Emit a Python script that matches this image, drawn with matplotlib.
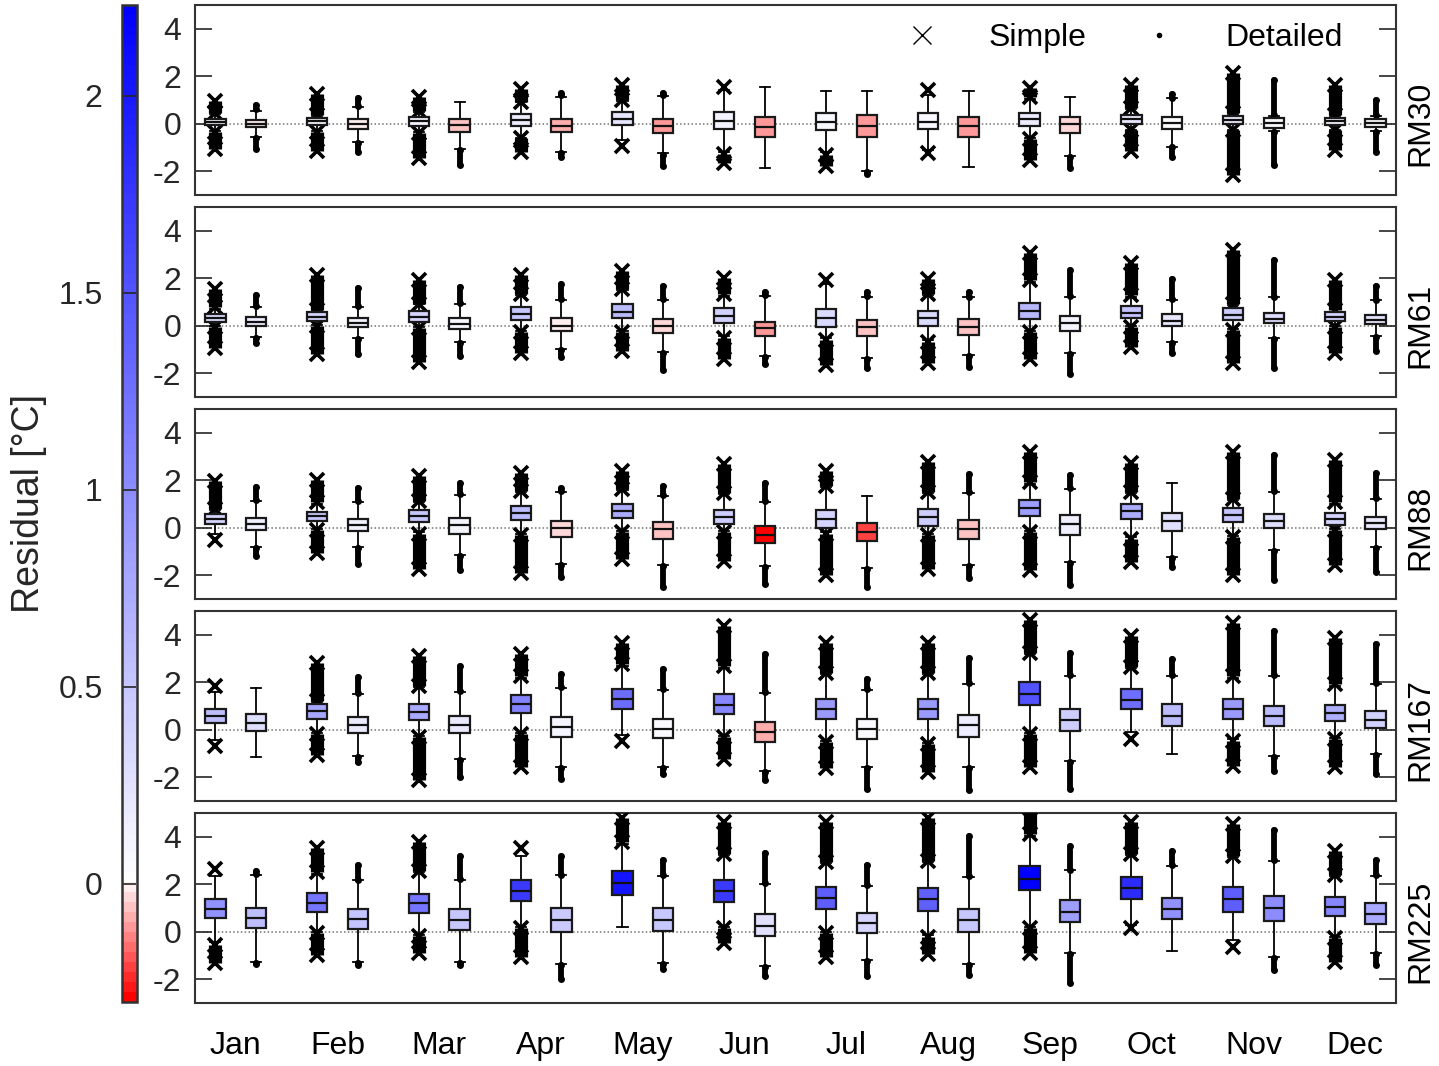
import numpy as np
import matplotlib
matplotlib.use("Agg")
import matplotlib.pyplot as plt
from matplotlib.colors import LinearSegmentedColormap, Normalize
from matplotlib.cm import ScalarMappable
from matplotlib.lines import Line2D
from matplotlib.transforms import blended_transform_factory

plt.rcParams['font.family'] = ['Liberation Sans', 'DejaVu Sans']

MONTHS = ['Jan', 'Feb', 'Mar', 'Apr', 'May', 'Jun', 'Jul', 'Aug', 'Sep', 'Oct', 'Nov', 'Dec']
SITES = ['RM30', 'RM61', 'RM88', 'RM167', 'RM225']
YTICKS = [-2, 0, 2, 4]
CBAR_TICKS = [0, 0.5, 1, 1.5, 2]

# ---------------- Simple model ----------------
S_MED = [
    [0.07, 0.10, 0.10, 0.16, 0.22, 0.12, 0.06, 0.06, 0.18, 0.20, 0.17, 0.10],
    [0.33, 0.38, 0.38, 0.50, 0.60, 0.40, 0.32, 0.32, 0.63, 0.53, 0.45, 0.38],
    [0.38, 0.49, 0.49, 0.60, 0.72, 0.45, 0.38, 0.45, 0.84, 0.72, 0.52, 0.38],
    [0.57, 0.77, 0.75, 1.08, 1.28, 1.05, 0.87, 0.88, 1.52, 1.26, 0.88, 0.70],
    [0.96, 1.21, 1.20, 1.72, 2.05, 1.72, 1.42, 1.38, 2.23, 1.84, 1.40, 1.05],
]
S_Q1 = [
    [-0.06, -0.04, -0.10, -0.10, -0.06, -0.22, -0.27, -0.24, -0.10, -0.01, -0.03, -0.06],
    [0.17, 0.21, 0.17, 0.26, 0.31, 0.10, -0.04, -0.01, 0.28, 0.31, 0.24, 0.20],
    [0.17, 0.29, 0.24, 0.33, 0.42, 0.14, -0.01, 0.06, 0.49, 0.38, 0.24, 0.13],
    [0.28, 0.47, 0.40, 0.71, 0.88, 0.66, 0.45, 0.45, 1.05, 0.86, 0.45, 0.35],
    [0.56, 0.84, 0.81, 1.28, 1.56, 1.26, 0.95, 0.88, 1.74, 1.39, 0.84, 0.66],
]
S_Q3 = [
    [0.18, 0.25, 0.27, 0.41, 0.50, 0.50, 0.46, 0.46, 0.46, 0.38, 0.32, 0.25],
    [0.49, 0.57, 0.61, 0.80, 0.93, 0.73, 0.70, 0.63, 0.96, 0.82, 0.73, 0.56],
    [0.59, 0.68, 0.73, 0.91, 1.00, 0.75, 0.73, 0.77, 1.17, 1.00, 0.82, 0.60],
    [0.89, 1.07, 1.10, 1.46, 1.70, 1.49, 1.28, 1.31, 2.02, 1.70, 1.31, 1.05],
    [1.37, 1.63, 1.60, 2.16, 2.55, 2.16, 1.88, 1.85, 2.75, 2.30, 1.88, 1.46],
]
S_WLO = [
    [-0.30, -0.30, -0.35, -0.60, -0.70, -1.20, -1.20, -1.10, -0.60, -0.25, -0.25, -0.25],
    [0.00, 0.05, -0.05, -0.20, -0.20, -0.45, -0.50, -0.60, -0.20, 0.00, -0.15, 0.00],
    [-0.25, -0.05, -0.20, -0.25, -0.12, -0.12, -0.20, -0.28, -0.12, -0.40, -0.35, -0.05],
    [-0.45, -0.12, -0.28, -0.12, -0.20, -0.28, -0.48, -0.55, -0.12, -0.10, -0.40, -0.35],
    [-0.45, -0.02, -0.12, 0.20, 0.21, 0.20, -0.02, -0.15, 0.20, 0.30, -0.35, -0.22],
]
S_WHI = [
    [0.40, 0.33, 0.50, 0.90, 0.95, 1.42, 1.39, 1.20, 1.05, 0.60, 0.40, 0.33],
    [0.70, 0.62, 0.90, 1.30, 1.50, 1.25, 1.75, 1.30, 1.85, 1.20, 0.88, 0.60],
    [0.75, 1.00, 1.10, 1.50, 1.58, 1.40, 1.70, 1.45, 1.85, 1.45, 1.15, 1.00],
    [1.60, 1.15, 1.80, 2.20, 2.70, 2.62, 2.35, 2.35, 3.18, 2.60, 2.20, 1.85],
    [2.35, 2.45, 2.50, 3.20, 3.70, 3.22, 2.88, 2.95, 4.05, 3.22, 3.15, 2.35],
]
# outlier extents (near end, far end) or a single outlier, or none
S_FHI = [
    [(0.45, 0.95), (0.37, 1.24), (0.53, 1.14), (0.93, 1.45), (1.00, 1.63), (1.53,), (), (1.42,), (1.14, 1.49), (0.65, 1.63), (0.44, 2.12), (0.36, 1.63)],
    [(0.80, 1.56), (0.66, 2.12), (0.93, 1.91), (1.35, 2.12), (1.56, 2.30), (1.32, 2.02), (1.91,), (1.35, 1.98), (1.91, 3.05), (1.28, 2.64), (0.93, 3.19), (0.66, 1.91)],
    [(0.80, 1.98), (1.07, 2.02), (1.14, 2.16), (1.56, 2.30), (1.63, 2.40), (1.46, 2.68), (1.77, 2.40), (1.49, 2.75), (1.91, 3.19), (1.49, 2.72), (1.21, 3.19), (1.07, 2.86)],
    [(1.84,), (1.21, 2.82), (1.84, 3.10), (2.25, 3.17), (2.75, 3.65), (2.68, 4.35), (2.40, 3.65), (2.40, 3.65), (3.24, 4.63), (2.64, 3.93), (2.26, 4.49), (1.91, 3.86)],
    [(2.65,), (2.51, 3.53), (2.55, 3.77), (3.51,), (3.77, 4.81), (3.28, 4.64), (2.93, 4.64), (3.00, 4.81), (4.11, 5.20), (3.28, 4.64), (3.21, 4.53), (2.41, 3.39)],
]
S_FLO = [
    [(-0.35, -1.07), (-0.34, -1.14), (-0.38, -1.46), (-0.62, -1.18), (-0.93,), (-1.28, -1.67), (-1.30, -1.80), (-1.25,), (-0.66, -1.53), (-0.27, -1.14), (-0.27, -2.16), (-0.27, -1.11)],
    [(-0.05, -0.95), (0.00, -1.19), (-0.11, -1.51), (-0.25, -1.16), (-0.25, -1.05), (-0.53, -1.41), (-0.60, -1.65), (-0.67, -1.55), (-0.25, -1.41), (-0.04, -0.88), (-0.18, -1.55), (-0.04, -1.16)],
    [(-0.53,), (-0.11, -1.05), (-0.25, -1.74), (-0.29, -1.92), (-0.18, -1.30), (-0.18, -1.41), (-0.25, -2.00), (-0.32, -1.72), (-0.18, -1.79), (-0.46, -1.44), (-0.39, -1.97), (-0.11, -1.58)],
    [(-0.67,), (-0.18, -1.05), (-0.32, -2.13), (-0.18, -1.58), (-0.46,), (-0.32, -1.23), (-0.53, -1.60), (-0.60, -1.79), (-0.18, -1.58), (-0.39,), (-0.46, -1.51), (-0.39, -1.58)],
    [(-0.56, -1.33), (-0.07, -0.98), (-0.18, -0.88), (0.14, -1.05), (), (0.14, -0.49), (-0.07, -1.05), (-0.21, -0.93), (0.14, -0.91), (0.14,), (-0.63,), (-0.28, -1.26)],
]

# ---------------- Detailed model ----------------
D_MED = [
    [0.00, 0.00, -0.07, -0.08, -0.10, -0.12, -0.10, -0.10, -0.03, 0.03, 0.03, 0.03],
    [0.17, 0.10, 0.07, 0.00, -0.03, -0.10, -0.07, -0.07, 0.10, 0.22, 0.30, 0.25],
    [0.15, 0.13, 0.10, -0.03, -0.07, -0.30, -0.20, -0.07, 0.15, 0.28, 0.30, 0.20],
    [0.30, 0.20, 0.20, 0.10, 0.03, -0.08, 0.05, 0.18, 0.42, 0.60, 0.60, 0.40],
    [0.58, 0.52, 0.50, 0.48, 0.50, 0.26, 0.38, 0.50, 0.85, 0.95, 1.00, 0.75],
]
D_Q1 = [
    [-0.15, -0.22, -0.34, -0.35, -0.38, -0.55, -0.55, -0.55, -0.41, -0.21, -0.18, -0.13],
    [-0.01, -0.07, -0.13, -0.22, -0.29, -0.43, -0.43, -0.38, -0.22, 0.00, 0.10, 0.07],
    [-0.11, -0.14, -0.25, -0.39, -0.46, -0.64, -0.57, -0.46, -0.29, -0.14, -0.01, -0.04],
    [-0.04, -0.14, -0.15, -0.29, -0.35, -0.50, -0.39, -0.29, -0.04, 0.17, 0.17, 0.07],
    [0.14, 0.10, 0.07, 0.00, 0.04, -0.18, -0.07, 0.00, 0.42, 0.52, 0.46, 0.32],
]
D_Q3 = [
    [0.15, 0.21, 0.21, 0.21, 0.21, 0.30, 0.36, 0.30, 0.27, 0.27, 0.24, 0.18],
    [0.35, 0.32, 0.32, 0.32, 0.29, 0.15, 0.24, 0.27, 0.42, 0.49, 0.52, 0.46],
    [0.40, 0.38, 0.40, 0.29, 0.24, 0.06, 0.20, 0.31, 0.52, 0.60, 0.59, 0.45],
    [0.66, 0.54, 0.59, 0.52, 0.47, 0.33, 0.47, 0.61, 0.89, 1.07, 1.00, 0.80],
    [1.02, 0.95, 0.95, 0.98, 0.98, 0.73, 0.77, 0.95, 1.33, 1.44, 1.49, 1.19],
]
D_WLO = [
    [-0.55, -0.76, -1.08, -1.18, -1.25, -1.88, -1.98, -1.84, -1.36, -0.97, -0.30, -0.30],
    [-0.46, -0.53, -0.67, -0.99, -1.09, -1.27, -1.37, -1.23, -1.13, -0.67, -0.53, -0.43],
    [-0.81, -0.81, -1.16, -1.51, -1.58, -1.62, -1.69, -1.58, -1.46, -1.23, -0.95, -0.81],
    [-1.16, -1.09, -1.23, -1.55, -1.55, -1.72, -1.58, -1.58, -1.30, -1.02, -1.09, -1.02],
    [-1.26, -1.26, -1.26, -1.35, -1.30, -1.46, -1.21, -1.35, -0.91, -0.80, -1.05, -0.88],
]
D_WHI = [
    [0.55, 0.70, 0.90, 1.14, 1.16, 1.53, 1.39, 1.39, 1.11, 1.07, 0.32, 0.32],
    [0.80, 0.80, 0.90, 1.07, 1.07, 1.24, 1.21, 1.19, 1.21, 1.07, 1.19, 1.07],
    [1.14, 1.07, 1.38, 1.49, 1.32, 1.07, 1.32, 1.46, 1.63, 1.88, 1.52, 1.21],
    [1.74, 1.52, 1.60, 1.74, 1.66, 1.56, 1.66, 1.91, 2.26, 2.26, 2.26, 1.91],
    [2.41, 2.16, 2.19, 2.37, 2.33, 2.02, 1.91, 2.30, 2.58, 2.75, 2.97, 2.33],
]
D_FHI = [
    [(0.60, 0.80), (0.75, 1.10), (), (1.20, 1.28), (1.20, 1.28), (), (), (), (), (1.10, 1.24), (0.36, 1.84), (0.36, 1.00)],
    [(0.85, 1.28), (0.85, 1.59), (0.95, 1.63), (1.12, 1.77), (1.12, 1.66), (1.28, 1.42), (1.25, 1.42), (1.23, 1.42), (1.25, 2.33), (1.12, 1.98), (1.23, 2.78), (1.10, 1.66)],
    [(1.18, 1.70), (1.11, 1.66), (1.42, 1.88), (1.53, 1.66), (1.36, 1.77), (1.11, 1.88), (), (1.50, 2.26), (1.67, 2.22), (), (1.56, 3.05), (1.25, 2.30)],
    [(), (1.56, 2.22), (1.64, 2.68), (1.78, 2.33), (1.70, 2.54), (1.60, 3.19), (1.70, 2.12), (1.95, 3.03), (2.30, 3.24), (2.30, 2.96), (2.30, 4.14), (1.95, 3.61)],
    [(2.45, 2.55), (2.20, 2.79), (2.23, 3.21), (2.41, 3.21), (2.37, 3.03), (2.06, 3.31), (1.95, 2.79), (2.34, 4.04), (2.62, 3.63), (2.79, 3.39), (3.01, 4.28), (2.37, 3.03)],
]
D_FLO = [
    [(-0.60, -1.08), (-0.80, -1.18), (-1.12, -1.74), (-1.22, -1.42), (-1.30, -1.77), (), (-2.02, -2.10), (), (-1.40, -1.88), (-1.00, -1.39), (-0.34, -1.74), (-0.34, -1.18)],
    [(-0.50, -0.74), (-0.57, -1.19), (-0.72, -1.27), (-1.03, -1.30), (-1.13, -1.85), (-1.30, -1.60), (-1.40, -1.79), (-1.27, -1.72), (-1.17, -2.02), (-0.72, -1.16), (-0.57, -1.79), (-0.47, -1.05)],
    [(-0.85, -1.19), (-0.85, -1.51), (-1.20, -1.79), (-1.55, -2.06), (-1.62, -2.48), (-1.66, -2.38), (-1.73, -2.48), (-1.62, -2.13), (-1.50, -2.41), (-1.27, -1.65), (-0.99, -2.20), (-0.85, -1.86)],
    [(), (-1.13, -1.37), (-1.27, -2.00), (-1.59, -2.06), (-1.59, -1.88), (-1.76, -2.13), (-1.62, -2.48), (-1.62, -2.52), (-1.34, -2.48), (), (-1.13, -1.72), (-1.06, -1.86)],
    [(-1.30, -1.37), (-1.30, -1.42), (-1.30, -1.42), (-1.39, -2.00), (-1.34, -1.58), (-1.50, -1.88), (-1.25, -1.88), (-1.39, -1.81), (-0.95, -2.16), (), (-1.09, -1.60), (-0.92, -1.39)],
]

# ---------------- layout ----------------
W, H = 1439, 1066
DPI = 100
fig = plt.figure(figsize=(W / DPI, H / DPI), dpi=DPI)

TXT = '#262626'
FS = 23

all_meds = np.concatenate([np.ravel(S_MED), np.ravel(D_MED)])
vmin, vmax = all_meds.min(), all_meds.max()
zpos = (0 - vmin) / (vmax - vmin)
cmap = LinearSegmentedColormap.from_list(
    'rwb', [(0.0, (1, 0, 0)), (zpos, (1, 1, 1)), (1.0, (0, 0, 1))], N=100)
norm = Normalize(vmin=vmin, vmax=vmax)

x0, x1 = 195, 1396
months_pos = np.arange(1, 13)

models = [
    (S_MED, S_Q1, S_Q3, S_WLO, S_WHI, S_FHI, S_FLO, -0.2, 'simple'),
    (D_MED, D_Q1, D_Q3, D_WLO, D_WHI, D_FHI, D_FLO, 0.2, 'detailed'),
]

axes = []
for p, site in enumerate(SITES):
    top = 5 + 202 * p
    ax = fig.add_axes([x0 / W, 1 - (top + 190) / H, (x1 - x0) / W, 190 / H])
    axes.append(ax)
    ax.axhline(0, color='0.45', ls=(0, (1, 1.5)), lw=1.1, zorder=0.5)
    for MED, Q1, Q3, WLO, WHI, FHI, FLO, off, kind in models:
        stats = []
        for m in range(12):
            stats.append(dict(med=MED[p][m], q1=Q1[p][m], q3=Q3[p][m],
                              whislo=WLO[p][m], whishi=WHI[p][m], fliers=[]))
        pos = months_pos + off
        bp = ax.bxp(stats, positions=pos, widths=0.2, capwidths=0.1,
                    patch_artist=True, showfliers=False,
                    boxprops=dict(edgecolor='#1a1a1a', linewidth=1.6),
                    medianprops=dict(color='#111111', linewidth=1.6),
                    whiskerprops=dict(color='k', linewidth=1.3, linestyle='-'),
                    capprops=dict(color='k', linewidth=1.3),
                    manage_ticks=False)
        for patch, md in zip(bp['boxes'], MED[p]):
            patch.set_facecolor(cmap(norm(md)))
            patch.set_zorder(4)
        for ln in bp['medians']:
            ln.set_zorder(5)
        for m in range(12):
            for grp in (FHI[p][m], FLO[p][m]):
                if len(grp) == 0:
                    continue
                xs = [pos[m]] * len(grp)
                if kind == 'simple':
                    if len(grp) == 2:
                        ax.vlines(pos[m], grp[0], grp[1], colors='k', lw=9.5,
                                  capstyle='butt', zorder=3)
                    ax.plot(xs, grp, ls='none', marker='x', ms=10, mew=2.6,
                            color='k', zorder=3)
                else:
                    if len(grp) == 2:
                        ax.vlines(pos[m], grp[0], grp[1], colors='k', lw=4.2,
                                  capstyle='round', zorder=3)
                    ax.plot(xs, grp, ls='none', marker='o', ms=5, mew=0,
                            color='k', zorder=3)
    ax.set_xlim(0.6, 12.4)
    ax.set_ylim(-3, 5)
    ax.set_yticks(YTICKS)
    ax.set_yticklabels([str(t) for t in YTICKS])
    ax.tick_params(axis='y', which='both', left=True, right=True, direction='in',
                   length=12, width=1.2, color=TXT, labelsize=FS, labelcolor=TXT, pad=10)
    ax.set_xticks(months_pos)
    if p == len(SITES) - 1:
        ax.set_xticklabels(MONTHS)
        ax.tick_params(axis='x', length=0, labelsize=FS, pad=20, labelcolor='black')
    else:
        ax.set_xticklabels([])
        ax.tick_params(axis='x', length=0)
    for sp in ax.spines.values():
        sp.set_color('#333333')
        sp.set_linewidth(1.5)
    trans = blended_transform_factory(ax.transAxes, ax.transData)
    ax.text(1.008, 0.0, site, transform=trans, rotation=90,
            ha='left', va='center', fontsize=FS, color='black')

# legend in top panel
handles = [
    Line2D([], [], ls='none', marker='x', ms=13, mew=1.0, color='k'),
    Line2D([], [], ls='none', marker='o', ms=4, mew=0, color='k'),
]
axes[0].legend(handles, ['Simple', 'Detailed'], ncol=2, frameon=False,
               loc='center left', bbox_to_anchor=((874 - x0) / (x1 - x0), (195 - 38) / 190),
               borderaxespad=0, borderpad=0, handlelength=3, handletextpad=0.6,
               columnspacing=0.75, fontsize=FS)

# colorbar
cax = fig.add_axes([122 / W, 1 - 1002 / H, 15 / W, 997 / H])
sm = ScalarMappable(norm=norm, cmap=cmap)
cb = fig.colorbar(sm, cax=cax)
cb.set_ticks(CBAR_TICKS)
cb.set_ticklabels(['0', '0.5', '1', '1.5', '2'])
cax.yaxis.set_ticks_position('left')
cax.yaxis.set_label_position('left')
cax.tick_params(axis='y', direction='in', length=10, width=1.2, color=TXT,
                labelsize=FS, labelcolor=TXT, pad=14)
cb.outline.set_edgecolor('#333333')
cb.outline.set_linewidth(1.8)
cb.set_label('Residual [°C]', fontsize=27, color=TXT, labelpad=8)

fig.savefig('out.png', dpi=DPI)
